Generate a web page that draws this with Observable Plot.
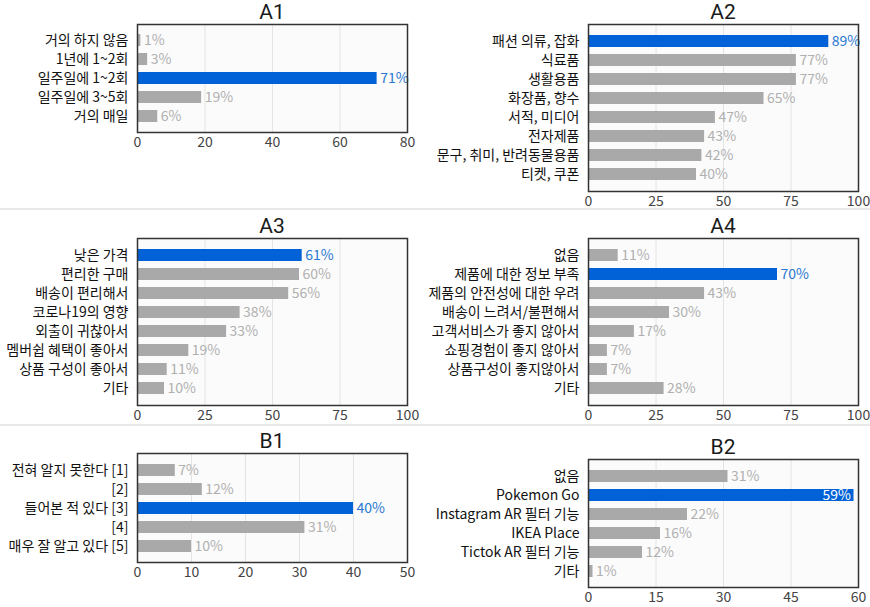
<!DOCTYPE html>
<html>
<head>
<meta charset="utf-8">
<script src="https://cdn.jsdelivr.net/npm/d3@7"></script>
<script src="https://cdn.jsdelivr.net/npm/@observablehq/plot@0.6"></script>
<style>
  html, body { margin: 0; padding: 0; background: #fff; }
  #root { position: relative; width: 870px; height: 607px; overflow: hidden; font-family: "Noto Sans CJK KR", "Noto Sans", sans-serif; }
  .sep { position: absolute; left: 0; width: 870px; height: 2px; background: #e8e8e8; }
  .title { position: absolute; width: 200px; text-align: center; font-family: Roboto, "Liberation Sans", sans-serif; font-size: 21px; color: #1a1a1a; line-height: 24px; }
  .panel { position: absolute; }
</style>
</head>
<body>
<div id="root"></div>
<script>
// ---- data ----
const a1Labels = ["거의 하지 않음", "1년에 1~2회", "일주일에 1~2회", "일주일에 3~5회", "거의 매일"];
const a1Values = [1, 3, 71, 19, 6];
const a1Highlight = "일주일에 1~2회";
const a1Ticks = [0, 20, 40, 60, 80];

const a2Labels = ["패션 의류, 잡화", "식료품", "생활용품", "화장품, 향수", "서적, 미디어", "전자제품", "문구, 취미, 반려동물용품", "티켓, 쿠폰"];
const a2Values = [89, 77, 77, 65, 47, 43, 42, 40];
const a2Highlight = "패션 의류, 잡화";
const a2Ticks = [0, 25, 50, 75, 100];

const a3Labels = ["낮은 가격", "편리한 구매", "배송이 편리해서", "코로나19의 영향", "외출이 귀찮아서", "멤버쉽 혜택이 좋아서", "상품 구성이 좋아서", "기타"];
const a3Values = [61, 60, 56, 38, 33, 19, 11, 10];
const a3Highlight = "낮은 가격";
const a3Ticks = [0, 25, 50, 75, 100];

const a4Labels = ["없음", "제품에 대한 정보 부족", "제품의 안전성에 대한 우려", "배송이 느려서/불편해서", "고객서비스가 좋지 않아서", "쇼핑경험이 좋지 않아서", "상품구성이 좋지않아서", "기타"];
const a4Values = [11, 70, 43, 30, 17, 7, 7, 28];
const a4Highlight = "제품에 대한 정보 부족";
const a4Ticks = [0, 25, 50, 75, 100];

const b1Labels = ["전혀 알지 못한다 [1]", "[2]", "들어본 적 있다 [3]", "[4]", "매우 잘 알고 있다 [5]"];
const b1Values = [7, 12, 40, 31, 10];
const b1Highlight = "들어본 적 있다 [3]";
const b1Ticks = [0, 10, 20, 30, 40, 50];

const b2Labels = ["없음", "Pokemon Go", "Instagram AR 필터 기능", "IKEA Place", "Tictok AR 필터 기능", "기타"];
const b2Values = [31, 59, 22, 16, 12, 1];
const b2Highlight = "Pokemon Go";
const b2Ticks = [0, 15, 30, 45, 60];

const panelTitles = ["A1", "A2", "A3", "A4", "B1", "B2"];

// ---- styles ----
const BLUE = "#0062d6";
const BLUE_TEXT = "#2a78d2";
const GRAY = "#a9a9a9";
const GRAY_TEXT = "#b0b0b0";

const panels = [
  {title: panelTitles[0], labels: a1Labels, values: a1Values, hi: a1Highlight, ticks: a1Ticks, col: 0, top: 24, h: 108, inside: false},
  {title: panelTitles[1], labels: a2Labels, values: a2Values, hi: a2Highlight, ticks: a2Ticks, col: 1, top: 24, h: 167, inside: false},
  {title: panelTitles[2], labels: a3Labels, values: a3Values, hi: a3Highlight, ticks: a3Ticks, col: 0, top: 238, h: 167, inside: false},
  {title: panelTitles[3], labels: a4Labels, values: a4Values, hi: a4Highlight, ticks: a4Ticks, col: 1, top: 238, h: 167, inside: false},
  {title: panelTitles[4], labels: b1Labels, values: b1Values, hi: b1Highlight, ticks: b1Ticks, col: 0, top: 453, h: 109, inside: false},
  {title: panelTitles[5], labels: b2Labels, values: b2Values, hi: b2Highlight, ticks: b2Ticks, col: 1, top: 459, h: 128, inside: true}
];

const root = document.getElementById("root");
[209, 425].forEach(y => {
  const s = document.createElement("div");
  s.className = "sep";
  s.style.top = (y - 1) + "px";
  root.appendChild(s);
});

panels.forEach(p => {
  const data = p.labels.map((c, i) => ({c, v: p.values[i], hi: c === p.hi}));
  const ml = p.col === 0 ? 137 : 153;
  const mr = p.col === 0 ? 28 : 12;
  const mt = 2, mb = 26;
  const xmax = p.ticks[p.ticks.length - 1];
  const normal = data.filter(d => !d.hi);
  const high = data.filter(d => d.hi);
  const chart = Plot.plot({
    width: 435,
    height: p.h + mt + mb,
    marginLeft: ml, marginRight: mr, marginTop: mt, marginBottom: mb,
    style: {fontFamily: '"Noto Sans CJK KR", "Noto Sans", sans-serif', fontSize: "14px", background: "transparent", overflow: "visible"},
    x: {domain: [0, xmax], label: null},
    y: {domain: p.labels, paddingInner: 0.38, paddingOuter: 0.45, label: null},
    marks: [
      Plot.frame({fill: "#fbfbfb"}),
      Plot.ruleX(p.ticks.slice(1, -1), {stroke: "#e4e4e4", strokeWidth: 1}),
      Plot.barX(normal, {x: "v", y: "c", fill: GRAY}),
      Plot.barX(high, {x: "v", y: "c", fill: BLUE}),
      Plot.text(normal, {x: "v", y: "c", text: d => d.v + "%", dx: 3, textAnchor: "start", fill: GRAY_TEXT, fontSize: 14}),
      Plot.text(high, {x: "v", y: "c", text: d => d.v + "%", dx: p.inside ? -3 : 3, textAnchor: p.inside ? "end" : "start", fill: p.inside ? "white" : BLUE_TEXT, fontSize: 14}),
      Plot.frame({stroke: "#333", strokeWidth: 1.5}),
      Plot.axisX({ticks: p.ticks, tickSize: 0, tickPadding: 5, label: null, fill: "#444", fontSize: 14}),
      Plot.axisY({tickSize: 0, tickPadding: 9, label: null, fill: "#111", fontSize: 14})
    ]
  });
  const wrap = document.createElement("div");
  wrap.className = "panel";
  wrap.style.left = (p.col * 435) + "px";
  wrap.style.top = (p.top - mt) + "px";
  wrap.appendChild(chart);
  root.appendChild(wrap);

  const t = document.createElement("div");
  t.className = "title";
  t.textContent = p.title;
  const cx = p.col * 435 + ml + (435 - ml - mr) / 2;
  t.style.left = (cx - 100) + "px";
  t.style.top = (p.top - 24) + "px";
  root.appendChild(t);
});
</script>
</body>
</html>
